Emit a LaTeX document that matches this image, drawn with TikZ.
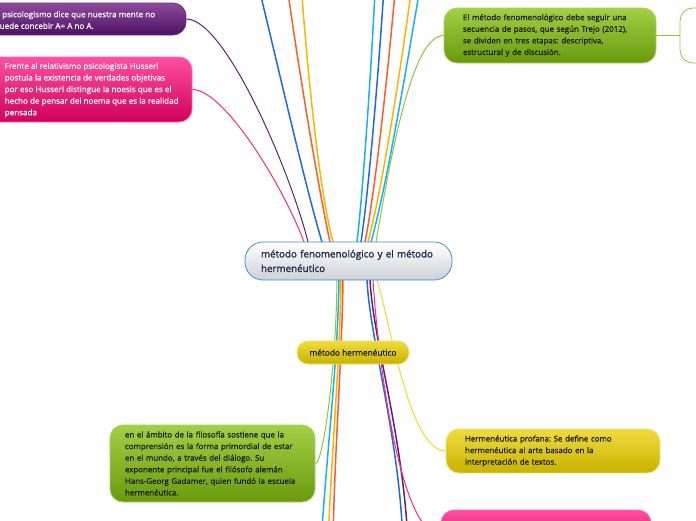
\documentclass[tikz,border=0pt]{standalone}
\usepackage{fontspec}
\setmainfont{Open Sans}
\newfontfamily\boxfont{Open Sans}[FakeBold=0.7]
\newfontfamily\rootfont{Open Sans}[FakeBold=1.4]
\usetikzlibrary{calc}
\pgfdeclarelayer{bg}\pgfsetlayers{bg,main}
\frenchspacing
\definecolor{purT}{HTML}{8E4A9E}\definecolor{purD}{HTML}{4C1260}\definecolor{purB}{HTML}{6E2C82}
\definecolor{pnkT}{HTML}{FF4FA0}\definecolor{pnkD}{HTML}{D0005C}\definecolor{pnkB}{HTML}{FF6AAE}
\definecolor{grnT}{HTML}{A2D046}\definecolor{grnD}{HTML}{6A9A0C}\definecolor{grnB}{HTML}{A8D458}
\definecolor{yelT}{HTML}{F0DC40}\definecolor{yelD}{HTML}{C8B200}\definecolor{yelB}{HTML}{F2E466}
\definecolor{rootB}{HTML}{3D8FD2}\definecolor{rootD}{HTML}{CDD2D7}\definecolor{navy}{HTML}{1E2A48}
\definecolor{lnPink}{HTML}{FF2A80}\definecolor{lnPur}{HTML}{5C2270}\definecolor{lnBlue}{HTML}{1F68E0}
\definecolor{lnOra}{HTML}{FF5A2C}\definecolor{lnAmb}{HTML}{FFB400}\definecolor{lnCyan}{HTML}{18B0F0}
\definecolor{lnGrn}{HTML}{8CC63F}\definecolor{lnYel}{HTML}{EEDA2A}\definecolor{txtD}{HTML}{1A1A1A}
\begin{document}
\begin{tikzpicture}[x=1pt,y=-1pt,
  box/.style={rounded corners=13pt, line width=0.8pt, inner sep=0pt, align=left,
    font=\boxfont\fontsize{7.9}{11.6}\selectfont\frenchspacing},
  purbox/.style={box, draw=purB, top color=purT, bottom color=purD},
  pnkbox/.style={box, draw=pnkB, top color=pnkT, bottom color=pnkD},
  grnbox/.style={box, draw=grnB, top color=grnT, bottom color=grnD, text=txtD},
  yelbox/.style={box, draw=yelB, top color=yelT, bottom color=yelD, text=txtD},
  rootbox/.style={box, rounded corners=18pt, draw=rootB, top color=white, bottom color=rootD,
    text=navy, font=\rootfont\fontsize{9.8}{14.5}\selectfont},
  wtxt/.style={inner sep=0pt, align=left, text=white, font=\boxfont\fontsize{8.1}{11.6}\selectfont\frenchspacing},
  thick line/.style={line width=1.5pt},
  thin line/.style={line width=1pt}]
\useasboundingbox (0,0) rectangle (696,520);
\clip (0,0) rectangle (696,520);

% ---------- nodes ----------
\node[purbox, minimum width=216pt, minimum height=32pt] (psico) at (78,19) {};
\node[wtxt, anchor=west] (psicoT) at (-0.5,20) {\hspace*{2.5pt}psicologismo dice que nuestra mente no\\uede concebir A= A no A.};
\node[pnkbox, minimum width=222pt, minimum height=65pt] (noesis) at (81,89.5) {};
\node[wtxt, anchor=west] (noesisT) at (4.5,90) {Frente al relativismo psicologista Husserl\\postula la existencia de verdades objetivas\\por eso Husserl distingue la noesis que es el\\hecho de pensar del noema que es la realidad\\pensada};
\node[grnbox, minimum width=212pt, minimum height=55pt, text width=174pt] (fenTop) at (550,35.5)
  {El método fenomenológico debe seguir una\\secuencia de pasos, que según Trejo (2012),\\se dividen en tres etapas: descriptiva,\\estructural y de discusión.};
\node[box, draw=lnGrn, fill=white, minimum width=70pt, minimum height=55pt] (offBox) at (715,35.5) {};
\node[rootbox, minimum width=207pt, minimum height=38pt, text width=175pt] (root) at (348.5,261)
  {método fenomenológico y el método\\hermenéutico};
\node[yelbox, rounded corners=11pt, minimum width=112pt, minimum height=23pt, align=center,
  font=\boxfont\fontsize{8.3}{10}\selectfont] (herm) at (353,352.5) {método hermenéutico};
\node[grnbox, minimum width=205pt, minimum height=77pt, text width=175pt] (gadamer) at (212.5,463.5)
  {en el ámbito de la filosofía sostiene que la\\comprensión es la forma primordial de estar\\en el mundo, a través del diálogo. Su\\exponente principal fue el filósofo alemán\\Hans-Georg Gadamer, quien fundó la escuela\\hermenéutica.};
\node[yelbox, minimum width=214pt, minimum height=44pt, text width=176pt] (profana) at (553,451)
  {Hermenéutica profana: Se define como\\hermenéutica al arte basado en la\\interpretación de textos.};
\node[pnkbox, minimum width=210pt, minimum height=50pt] (pinkBot) at (546,535) {};

% ---------- attachment coordinates ----------
\coordinate (rK) at (304,242); \coordinate (rP) at (308,242);
\coordinate (rB) at (322,242); \coordinate (rO) at (330,242); \coordinate (rA) at (333,242);
\coordinate (rC1) at (357,242); \coordinate (rB2) at (361,242); \coordinate (rO2) at (365,242);
\coordinate (rA2) at (368,242); \coordinate (rC2) at (371,242); \coordinate (rG) at (376,242);
\coordinate (bG) at (337,280); \coordinate (bC) at (339,280); \coordinate (bA) at (341,280); \coordinate (bO) at (343,280);
\coordinate (bB) at (367,280); \coordinate (bP) at (370,280); \coordinate (bK) at (373,280); \coordinate (bY) at (377,280);
% off-picture ends
\coordinate (tB) at (254.5,-30); \coordinate (tO) at (285,-30); \coordinate (tA) at (300,-30);
\coordinate (tC1) at (376,-30); \coordinate (tB2) at (385,-30); \coordinate (tO2) at (397,-30);
\coordinate (tA2) at (414,-30); \coordinate (tC2) at (423,-30);
\coordinate (dC) at (321,545); \coordinate (dA) at (328,545); \coordinate (dO) at (333,545);
\coordinate (dB) at (403,545); \coordinate (dP) at (408,545);

% ---------- connectors ----------
\begin{pgfonlayer}{bg}
\draw[thin line, lnPur] (psico.east) .. controls (225,19) and (290,170) .. (rP);
\draw[thin line, lnPink] (noesis.east) .. controls (225,89.5) and (285,190) .. (rK);
\draw[thick line, lnBlue] (rB) .. controls (304,182) and (272,40) .. (tB);
\draw[thick line, lnOra] (rO) .. controls (317,182) and (294,40) .. (tO);
\draw[thick line, lnAmb] (rA) .. controls (317,182) and (305,40) .. (tA);
\draw[thick line, lnCyan] (rC1) .. controls (364,182) and (373,40) .. (tC1);
\draw[thick line, lnBlue] (rB2) .. controls (370,182) and (381,40) .. (tB2);
\draw[thick line, lnOra] (rO2) .. controls (377,182) and (391,40) .. (tO2);
\draw[thick line, lnAmb] (rA2) .. controls (384,182) and (405,40) .. (tA2);
\draw[thick line, lnCyan] (rC2) .. controls (388,182) and (411,40) .. (tC2);
\draw[thin line, lnGrn] (rG) .. controls (395,130) and (415,35.5) .. (fenTop.west);
\draw[thin line, lnGrn] (fenTop.east) -- (offBox.west);
% below the root
\draw[thin line, lnGrn] (bG) .. controls (336,370) and (323,463.5) .. (gadamer.east);
\draw[thick line, lnCyan] (bC) .. controls (338,360) and (326,460) .. (dC);
\draw[thick line, lnAmb] (bA) .. controls (340,360) and (331,460) .. (dA);
\draw[thick line, lnOra] (bO) .. controls (342,360) and (334,460) .. (dO);
\draw[thick line, lnBlue] (bB) .. controls (370,340) and (400,440) .. (dB);
\draw[thick line, lnPur] (bP) .. controls (373,340) and (404,440) .. (dP);
\draw[thin line, lnPink] (bK) .. controls (378,360) and (400,535) .. (pinkBot.west);
\draw[thin line, lnYel] (bY) .. controls (392,330) and (410,451) .. (profana.west);
\end{pgfonlayer}
\end{tikzpicture}
\end{document}
